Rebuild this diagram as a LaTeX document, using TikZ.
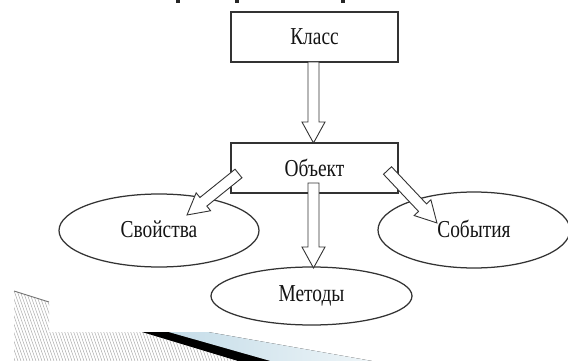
\documentclass[tikz,border=0pt]{standalone}
\usepackage{fontspec}
\usepackage{graphicx}
\setmainfont{Liberation Serif}
\usetikzlibrary{shapes.geometric,calc}
\newcommand{\tallt}[1]{\scalebox{1.02}[1.28]{#1}}
\newcommand{\talltup}[1]{\raisebox{3pt}{\scalebox{1.02}[1.28]{#1}}}
\definecolor{bandblue}{RGB}{196,220,232}
\definecolor{bandpale}{RGB}{238,245,248}
\tikzset{
  boxnode/.style={draw=black!80, line width=1.3pt, fill=white, minimum width=167pt,
    minimum height=50pt, inner sep=0pt, font=\fontsize{19}{22}\selectfont, text=black!92},
  ellnode/.style={ellipse, draw=black!80, line width=1.25pt, fill=white, inner sep=0pt,
    font=\fontsize{19}{22}\selectfont, text=black!92},
  arrowbody/.style={draw=black!80, line width=0.9pt, fill=white, line join=miter},
  hatchline/.style={black!35, line width=0.45pt},
  topmark/.style={fill=black!85, draw=none},
}
\newcommand{\blockarrow}[2]{%
  \draw[arrowbody] let \p1=(#1), \p2=(#2),
      \n1={atan2(\y2-\y1,\x2-\x1)}, \n2={veclen(\x2-\x1,\y2-\y1)} in
    [shift={(\x1,\y1)}, rotate=\n1]
    (0pt,-5.5pt) -- ({\n2-21pt},-5.5pt) -- ({\n2-21pt},-11.5pt) -- ({\n2},0pt)
    -- ({\n2-21pt},11.5pt) -- ({\n2-21pt},5.5pt) -- (0pt,5.5pt) -- cycle;}
\begin{document}
\begin{tikzpicture}[x=1pt, y=-1pt]
  \useasboundingbox (0,0) rectangle (568,361);
  \clip (0,0) rectangle (568,361);
  \fill[white] (0,0) rectangle (568,361);

  % cut-off title fragments at the top edge
  \fill[topmark] (176,0) rectangle (180,3);
  \fill[topmark] (235,0) rectangle (239,3);
  \fill[topmark] (341,0) rectangle (345,3);

  % slide decoration, bottom left
  \begin{scope}
    \clip (14,291) -- (49,302) -- (49,332) -- (142,332) -- (238,361) -- (14,361) -- cycle;
    \foreach \i in {-30,-27,...,260} \draw[hatchline] (\i,285) -- (\i+27,361);
  \end{scope}
  \draw[black!55, line width=0.9pt] (14,291) -- (49,302);
  \fill[left color=bandblue, right color=bandpale]
    (168,332) -- (208,332) -- (372,361) -- (270,361) -- cycle;
  \fill[black] (142,332) -- (168,332) -- (270,361) -- (238,361) -- cycle;

  % boxes
  \node[boxnode] (klass) at (314.5,37) {\tallt{Класс}};
  \node[boxnode] (obj) at (314.5,168) {\tallt{Объект}};

  % ellipses
  \node[ellnode, minimum width=200pt, minimum height=73pt] (svo) at (159,230.5) {\talltup{Свойства}};
  \node[ellnode, minimum width=201pt, minimum height=58pt] (met) at (311.5,296) {\tallt{Методы}};
  \node[ellnode, minimum width=192pt, minimum height=76pt] (sob) at (474,230) {\talltup{События}};

  % arrow end points
  \coordinate (a1s) at (313.5,62);
  \coordinate (a1e) at (313.5,143);
  \coordinate (a2s) at (313.5,183);
  \coordinate (a2e) at (313.5,268);
  \coordinate (a3s) at (238.5,173.5);
  \coordinate (a3e) at (187,215);
  \coordinate (a4s) at (387.5,170.5);
  \coordinate (a4e) at (437,223);

  % block arrows
  \blockarrow{a1s}{a1e}
  \blockarrow{a2s}{a2e}
  \blockarrow{a3s}{a3e}
  \blockarrow{a4s}{a4e}
\end{tikzpicture}
\end{document}
